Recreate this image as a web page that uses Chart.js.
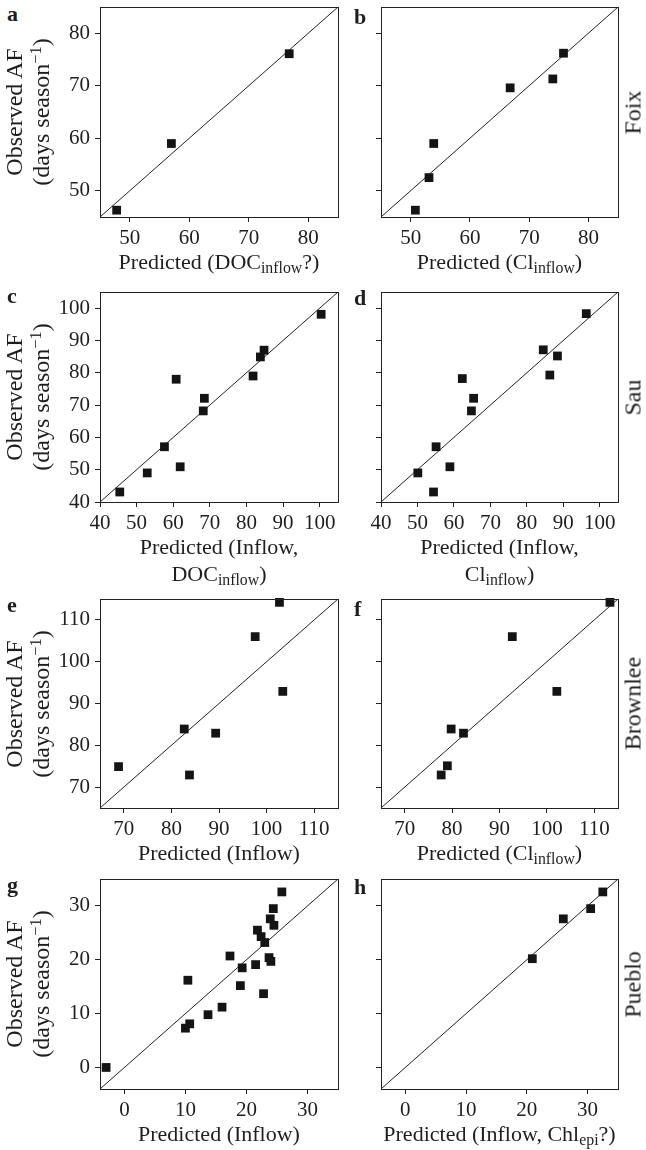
<!doctype html>
<html>

<head>
    <title>Observed vs predicted AF</title>
    <script src="https://cdn.jsdelivr.net/npm/chart.js@4.4.0/dist/chart.umd.min.js"></script>
    <style>
    body { margin: 0; background: #fff; }
    #fig { position: relative; width: 646px; height: 1150px; overflow: hidden;
           font-family: "Liberation Serif", "DejaVu Serif", serif; color: #1e1e1e; }
    #fig canvas { position: absolute; }
    .t { position: absolute; white-space: nowrap; text-align: center; }
    .sub { font-size: 0.72em; vertical-align: -0.25em; line-height: 0; }
    .sup { font-size: 0.68em; vertical-align: 0.5em; line-height: 0; }
    .rot { transform: rotate(-90deg); }
    .lt { font-weight: bold; text-align: left; }
    </style>
</head>

<body>
    <div id="fig"></div>

    <script>
        // values: predicted (x) vs observed (y)
        var xA = [47.8, 57.0, 76.8];
        var yA = [46.3, 59.0, 76.1];
        var xB = [50.8, 53.1, 53.9, 66.8, 74.0, 75.8];
        var yB = [46.3, 52.5, 59.0, 69.6, 71.3, 76.2];
        var xC = [45.4, 52.9, 57.6, 60.8, 61.9, 68.2, 68.5, 81.8, 83.8, 84.8, 100.4];
        var yC = [43.1, 49.0, 57.1, 78.0, 50.9, 68.2, 72.1, 79.0, 84.9, 87.0, 98.1];
        var xD = [50.1, 54.4, 55.1, 58.9, 62.3, 64.8, 65.4, 84.5, 86.3, 88.4, 96.3];
        var yD = [49.0, 43.1, 57.1, 50.9, 78.2, 68.2, 72.1, 87.1, 79.3, 85.2, 98.3];
        var xE = [68.9, 82.7, 83.8, 89.3, 97.6, 102.7, 103.4];
        var yE = [74.9, 83.9, 72.9, 82.9, 106.0, 114.2, 92.9];
        var xF = [77.7, 79.0, 79.8, 82.4, 92.7, 102.1, 113.3];
        var yF = [72.9, 75.1, 83.9, 82.9, 106.0, 92.9, 114.2];
        var xG = [-3.0, 10.0, 10.7, 10.4, 13.7, 16.0, 17.3, 19.0, 19.3, 21.5, 21.8, 22.4, 22.8, 23.0, 23.7, 24.0, 23.9, 24.5, 24.4, 25.8];
        var yG = [0.0, 7.3, 8.1, 16.2, 9.8, 11.2, 20.7, 15.2, 18.5, 19.1, 25.5, 24.3, 13.7, 23.2, 20.4, 19.7, 27.6, 26.4, 29.5, 32.6];
        var xH = [20.9, 26.0, 30.5, 32.5];
        var yH = [20.2, 27.6, 29.5, 32.6];

        // axis ranges and tick labels
        var rangeAB = [45, 85];
        var rangeCD = [40, 105];
        var rangeEF = [65, 115];
        var rangeGH = [-4, 35];
        var ticksAB = [50, 60, 70, 80];
        var ticksCD = [40, 50, 60, 70, 80, 90, 100];
        var ticksEF = [70, 80, 90, 100, 110];
        var ticksGH = [0, 10, 20, 30];

        var lakes = ['Foix', 'Sau', 'Brownlee', 'Pueblo'];
        var xTitles = [
            'Predicted (DOC<span class="sub">inflow</span>?)',
            'Predicted (Cl<span class="sub">inflow</span>)',
            'Predicted (Inflow,<br>DOC<span class="sub">inflow</span>)',
            'Predicted (Inflow,<br>Cl<span class="sub">inflow</span>)',
            'Predicted (Inflow)',
            'Predicted (Cl<span class="sub">inflow</span>)',
            'Predicted (Inflow)',
            'Predicted (Inflow, Chl<span class="sub">epi</span>?)'
        ];
        var yTitle = 'Observed AF<br>(days season<span class="sup">\u22121</span>)';

        // layout (pixels)
        var cols = [[100, 338], [381, 618]];
        var rows = [[7, 217], [292, 502], [599, 808], [879, 1089]];
        var letterBase = [[21, 24], [303, 305], [612, 616], [892, 894]];
        var YW = 60, PT = 20, PR = 20, XH = 40;
        var TICK_FONT = { family: '"Liberation Serif", serif', size: 21 };

        var panels = [
            { id: 'a', x: xA, y: yA, range: rangeAB, ticks: ticksAB },
            { id: 'b', x: xB, y: yB, range: rangeAB, ticks: ticksAB },
            { id: 'c', x: xC, y: yC, range: rangeCD, ticks: ticksCD },
            { id: 'd', x: xD, y: yD, range: rangeCD, ticks: ticksCD },
            { id: 'e', x: xE, y: yE, range: rangeEF, ticks: ticksEF },
            { id: 'f', x: xF, y: yF, range: rangeEF, ticks: ticksEF },
            { id: 'g', x: xG, y: yG, range: rangeGH, ticks: ticksGH },
            { id: 'h', x: xH, y: yH, range: rangeGH, ticks: ticksGH }
        ];

        var fig = document.getElementById('fig');

        var framePlugin = {
            id: 'frame',
            afterDraw: function(chart) {
                var a = chart.chartArea, c = chart.ctx;
                var x0 = Math.round(a.left - 0.5) + 0.5, y0 = Math.round(a.top - 0.5) + 0.5;
                var x1 = Math.round(a.right - 0.5) + 0.5, y1 = Math.round(a.bottom - 0.5) + 0.5;
                c.save();
                c.strokeStyle = '#222';
                c.lineWidth = 1;
                c.strokeRect(x0, y0, x1 - x0, y1 - y0);
                c.restore();
            }
        };

        // text placed by its baseline (Liberation Serif metrics)
        function addText(html, cls, fs, lh, left, width, base, extra) {
            var d = document.createElement('div');
            d.className = 't ' + cls;
            d.innerHTML = html;
            d.style.fontSize = fs + 'px';
            d.style.lineHeight = lh + 'px';
            d.style.left = left + 'px';
            if (width) d.style.width = width + 'px';
            d.style.top = (base - ((lh - 1.107 * fs) / 2 + 0.891 * fs)) + 'px';
            if (extra) Object.assign(d.style, extra);
            fig.appendChild(d);
            return d;
        }

        // rotated (-90deg) block centred at cx, cy
        function addRotated(html, fs, lh, nLines, cx, cy) {
            var w = 320, h = lh * nLines;
            var d = document.createElement('div');
            d.className = 't rot';
            d.innerHTML = html;
            d.style.fontSize = fs + 'px';
            d.style.lineHeight = lh + 'px';
            d.style.width = w + 'px';
            d.style.height = h + 'px';
            d.style.left = (cx - w / 2) + 'px';
            d.style.top = (cy - h / 2) + 'px';
            fig.appendChild(d);
        }

        function makePanel(p, i) {
            var col = i % 2, row = Math.floor(i / 2);
            var L = cols[col][0], R = cols[col][1], T = rows[row][0], B = rows[row][1];
            var w = R - L + YW + PR, h = B - T + PT + XH;
            var cv = document.createElement('canvas');
            cv.width = w; cv.height = h;
            cv.style.width = w + 'px'; cv.style.height = h + 'px';
            cv.style.left = (L - YW) + 'px';
            cv.style.top = (T - PT) + 'px';
            fig.appendChild(cv);

            var pts = p.x.map(function(v, k) { return { x: v, y: p.y[k] }; });
            var lo = p.range[0], hi = p.range[1];
            var setTicks = function(s) { s.ticks = p.ticks.map(function(v) { return { value: v }; }); };
            var axis = function(showLabels) {
                return {
                    type: 'linear', min: lo, max: hi,
                    afterBuildTicks: setTicks,
                    grid: { drawOnChartArea: false, tickLength: 5, color: '#222', lineWidth: 1 },
                    border: { display: false },
                    ticks: { display: showLabels, font: TICK_FONT, color: '#1e1e1e', padding: 5,
                             autoSkip: false, maxRotation: 0 }
                };
            };
            var xs = axis(true), ys = axis(col === 0);
            xs.afterFit = function(s) { s.height = XH; };
            xs.ticks.padding = 4;
            ys.afterFit = function(s) { s.width = YW; };

            new Chart(cv.getContext('2d'), {
                type: 'scatter',
                data: {
                    datasets: [{
                        data: pts,
                        pointStyle: 'rect',
                        pointRadius: 6.2,
                        backgroundColor: '#141414',
                        borderWidth: 0,
                        clip: false
                    }, {
                        data: [{ x: lo, y: lo }, { x: hi, y: hi }],
                        showLine: true,
                        pointRadius: 0,
                        borderColor: '#222',
                        borderWidth: 1
                    }]
                },
                options: {
                    responsive: false,
                    animation: false,
                    devicePixelRatio: 1,
                    events: [],
                    layout: { padding: { top: PT, right: PR, left: 0, bottom: 0 } },
                    plugins: { legend: { display: false }, tooltip: { enabled: false } },
                    scales: { x: xs, y: ys }
                },
                plugins: [framePlugin]
            });

            // panel letter, x title
            addText(p.id, 'lt', 22, 26, col === 0 ? 7 : 354, 0, letterBase[row][col]);
            addText(xTitles[i], '', 22, 27, L - 40, R - L + 80, B + 52);
            if (col === 0) {
                addRotated(yTitle, 24, 27, 2, 28.4, (T + B) / 2);
            } else {
                addRotated(lakes[row], 24, 27, 1, 633, (T + B) / 2);
            }
        }

        window.onload = function() {
            panels.forEach(makePanel);
        };
    </script>
</body>

</html>
